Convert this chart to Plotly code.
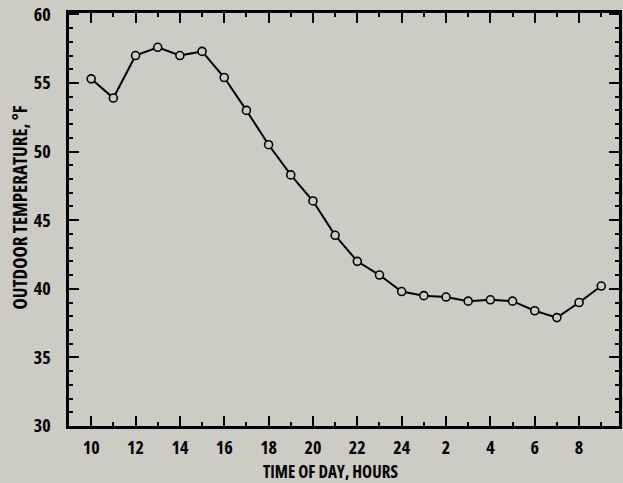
import plotly.graph_objects as go

# Data (hours elapsed since midnight of first day; 25..33 = 1..9 next day)
hours = [10, 11, 12, 13, 14, 15, 16, 17, 18, 19, 20, 21, 22, 23, 24,
         25, 26, 27, 28, 29, 30, 31, 32, 33]
temps = [55.3, 53.9, 57.0, 57.6, 57.0, 57.3, 55.4, 53.0, 50.5, 48.3, 46.4, 43.9,
         42.0, 41.0, 39.8, 39.5, 39.4, 39.1, 39.2, 39.1, 38.4, 37.9, 39.0, 40.2]

x_tickvals = [10, 12, 14, 16, 18, 20, 22, 24, 26, 28, 30, 32]
x_ticktext = ["10", "12", "14", "16", "18", "20", "22", "24", "2", "4", "6", "8"]
y_tickvals = [30, 35, 40, 45, 50, 55, 60]
y_ticktext = ["30", "35", "40", "45", "50", "55", "60"]

BG = "#cccbc4"
FONT = "Open Sans, DejaVu Sans Condensed, sans-serif"

fig = go.Figure()
fig.add_trace(go.Scatter(
    x=hours, y=temps, mode="lines+markers",
    line=dict(color="black", width=2),
    marker=dict(symbol="circle", size=8, color=BG,
                line=dict(color="black", width=1.6)),
    showlegend=False, hoverinfo="x+y",
))

axis_common = dict(
    showline=True, linecolor="black", linewidth=2.5,
    mirror="ticks", ticks="inside", ticklen=10, tickwidth=2, tickcolor="black",
    showgrid=False, zeroline=False,
    tickfont=dict(family=FONT, size=18, color="black", weight="bold"),
)

fig.update_xaxes(
    range=[9, 33.8], tickvals=x_tickvals, ticktext=x_ticktext,
    minor=dict(dtick=1, tick0=0, ticks="inside", ticklen=4, tickwidth=2, tickcolor="black"),
    ticklabelstandoff=4,
    **axis_common,
)
fig.update_yaxes(
    range=[30, 60.1], tickvals=y_tickvals, ticktext=y_ticktext,
    minor=dict(dtick=1, tick0=0, ticks="inside", ticklen=4, tickwidth=2, tickcolor="black"),
    ticklabelstandoff=12, ticklabeloverflow="allow",
    **axis_common,
)

fig.add_annotation(
    text="TIME OF DAY, HOURS", xref="paper", yref="paper",
    x=(332 - 69) / (622 - 69), y=-(471 - 426) / (426 - 13),
    showarrow=False, xanchor="center", yanchor="middle",
    font=dict(family=FONT, size=17, color="black", weight="bold"),
)
fig.add_annotation(
    text="OUTDOOR TEMPERATURE, °F", xref="paper", yref="paper",
    x=-(69 - 20) / (622 - 69), y=(426 - 207) / (426 - 13),
    textangle=-90, showarrow=False, xanchor="center", yanchor="middle",
    font=dict(family=FONT, size=19, color="black", weight="bold"),
)

fig.update_layout(
    width=623, height=483,
    margin=dict(l=69, r=1, t=13, b=57),
    paper_bgcolor=BG, plot_bgcolor=BG,
)

post = (
    "document.body.style.margin='0';document.body.style.overflow='hidden';"
    "document.body.style.background='" + BG + "';"
    "var gd=document.getElementById('{plot_id}');"
    "function cond(){gd.querySelectorAll('text').forEach(function(t){t.style.fontStretch='75%';});}"
    "cond();gd.on('plotly_afterplot',cond);setTimeout(cond,50);"
)

fig.write_html("out.html", post_script=post, config={"displayModeBar": False})
